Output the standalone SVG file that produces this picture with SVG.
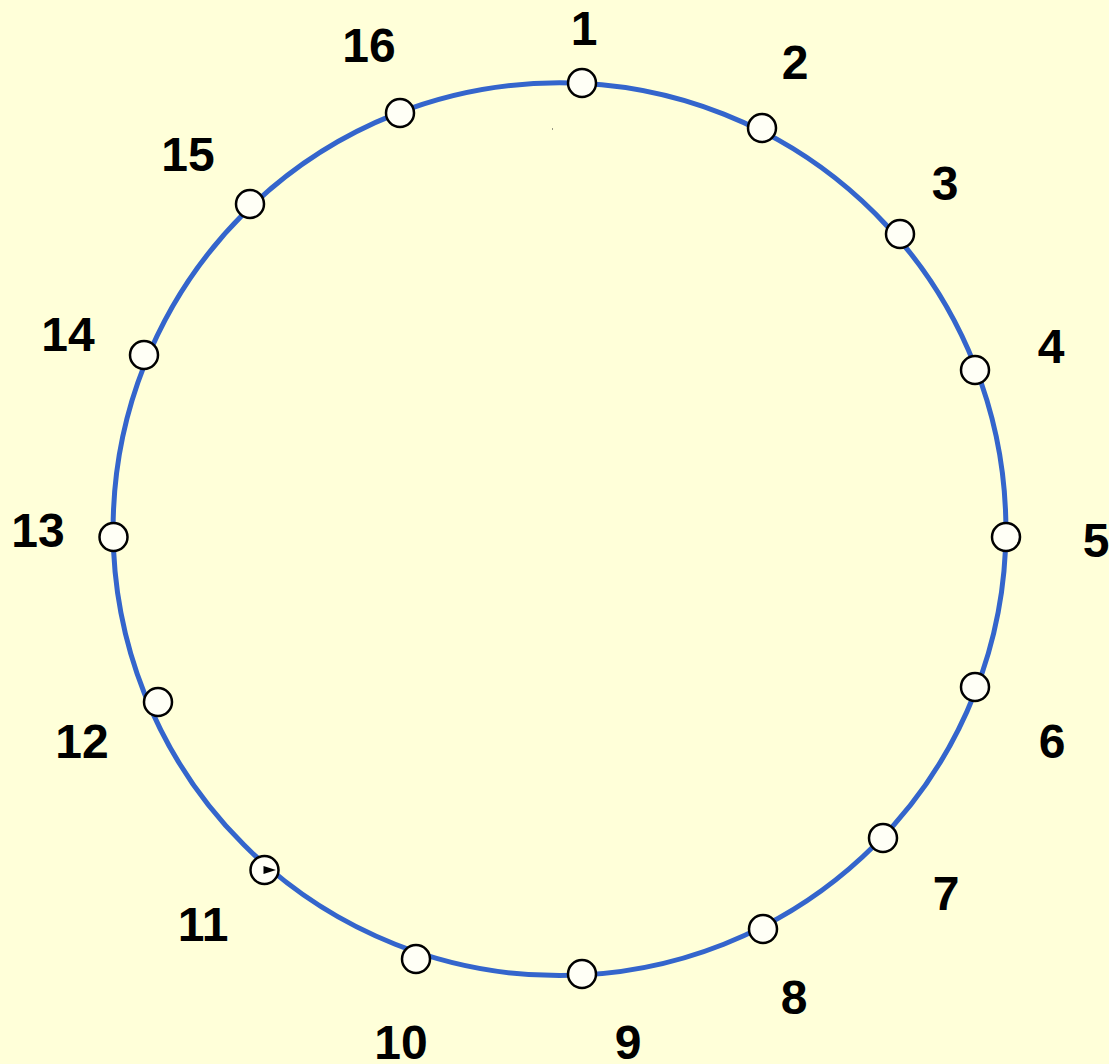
<svg xmlns="http://www.w3.org/2000/svg" width="1109" height="1064" viewBox="0 0 1109 1064">
<style>
.ring{fill:none;stroke:#3465CC;stroke-width:5}
.node{fill:#FFFFF6;stroke:#000;stroke-width:2.5}
.lbl{font-family:"Liberation Sans",Arial,sans-serif;font-weight:bold;font-size:48px;fill:#000;text-anchor:middle}
</style>
<rect width="1109" height="1064" fill="#FFFFD9"/>
<g id="connectors">
<circle class="ring" cx="559.5" cy="529.2" r="446.4"/>
</g>
<rect x="552" y="128.5" width="1" height="1" fill="#333"/>
<g id="n1"><circle class="node" cx="582" cy="83" r="14"/><text class="lbl" x="584" y="45">1</text></g>
<g id="n2"><circle class="node" cx="762" cy="128" r="14"/><text class="lbl" x="795" y="79">2</text></g>
<g id="n3"><circle class="node" cx="900" cy="234" r="14"/><text class="lbl" x="945" y="200">3</text></g>
<g id="n4"><circle class="node" cx="975" cy="370" r="14"/><text class="lbl" x="1051" y="363">4</text></g>
<g id="n5"><circle class="node" cx="1006" cy="537" r="14"/><text class="lbl" x="1096" y="557">5</text></g>
<g id="n6"><circle class="node" cx="975" cy="687" r="14"/><text class="lbl" x="1052" y="758">6</text></g>
<g id="n7"><circle class="node" cx="883" cy="838" r="14"/><text class="lbl" x="946" y="910">7</text></g>
<g id="n8"><circle class="node" cx="763" cy="929" r="14"/><text class="lbl" x="794" y="1014">8</text></g>
<g id="n9"><circle class="node" cx="582" cy="974" r="14"/><text class="lbl" x="628" y="1059">9</text></g>
<g id="n10"><circle class="node" cx="416" cy="959" r="14"/><text class="lbl" x="401" y="1059">10</text></g>
<g id="n11"><circle class="node" cx="264.5" cy="870" r="14"/><polygon points="263.5,866 276,870 263.5,874" fill="#000"/><text class="lbl" x="203" y="941">11</text></g>
<g id="n12"><circle class="node" cx="158" cy="702" r="14"/><text class="lbl" x="82" y="758">12</text></g>
<g id="n13"><circle class="node" cx="113.5" cy="537" r="14"/><text class="lbl" x="38" y="547">13</text></g>
<g id="n14"><circle class="node" cx="144" cy="355" r="14"/><text class="lbl" x="68" y="351">14</text></g>
<g id="n15"><circle class="node" cx="250" cy="204" r="14"/><text class="lbl" x="188" y="171">15</text></g>
<g id="n16"><circle class="node" cx="400" cy="113" r="14"/><text class="lbl" x="369" y="62">16</text></g>
</svg>
